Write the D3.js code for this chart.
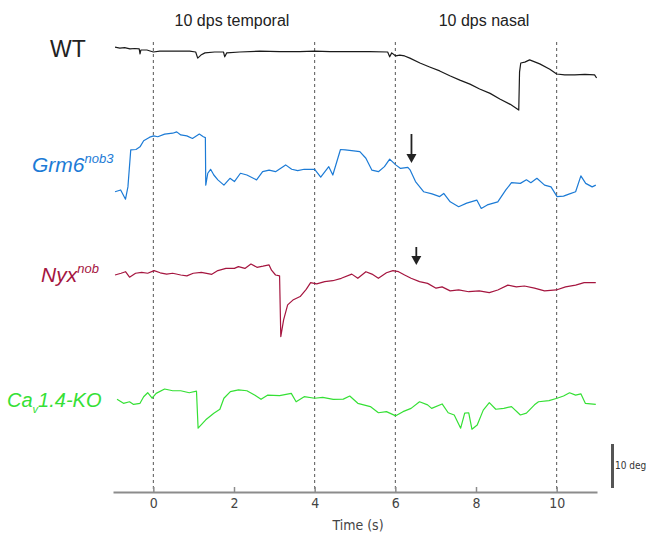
<!DOCTYPE html>
<html>
<head>
<meta charset="utf-8">
<script src="https://cdn.jsdelivr.net/npm/d3@7"></script>
<style>
body { margin: 0; background: #fff; }
svg { display: block; }
.label { font-family: "Liberation Sans", Arial, sans-serif; }
.axis text { font-family: "DejaVu Sans Condensed", sans-serif; font-size: 14px; fill: #444; }
.axis path, .axis line { stroke: #8c8c8c; }
.axis path { stroke-width: 2px; }
.stim { stroke: #555; stroke-width: 1; stroke-dasharray: 3,3; }
.trace { fill: none; stroke-width: 1.2px; stroke-linejoin: round; }
</style>
</head>
<body>
<script>

// time (s) and eye position (deg)
var timeTicks = [0, 2, 4, 6, 8, 10];
var stimLines = [0, 4, 6, 10];
var stimLabels = [{text: "10 dps temporal", t: 1.95}, {text: "10 dps nasal", t: 8.2}];
var arrowTimes = [6.4, 6.52];

var wt = [[-0.95,1.1],[-0.83,0.9],[-0.71,1.0],[-0.58,0.7],[-0.46,0.8],[-0.35,0.7],[-0.33,-0.45],[-0.31,0.45],
  [-0.16,0.45],[0.0,0],[0.16,0.2],[0.41,0.2],[0.66,0.2],[0.90,0.2],[1.05,0],[1.10,-1.4],[1.18,-0.7],[1.28,-0.2],
  [1.52,0],[1.74,0],[1.77,-1.1],[1.82,-0.2],[2.14,0],[2.64,0.2],[3.13,0.1],[3.63,0.1],[4.00,0.2],[4.38,0.1],
  [4.87,0.1],[5.37,0.1],[5.81,0],[5.86,-1.1],[5.91,-0.2],[6.01,-0.9],[6.11,-0.7],[6.23,-0.9],[6.36,-1.4],
  [6.61,-2.5],[6.85,-3.4],[7.10,-4.3],[7.35,-5.4],[7.60,-6.4],[7.85,-7.3],[8.09,-8.4],[8.35,-9.4],[8.59,-10.7],
  [8.85,-11.9],[9.06,-13.2],[9.08,-4.5],[9.11,-2.5],[9.21,-2.3],[9.33,-1.8],[9.58,-2.7],[9.83,-3.9],[10.0,-5.0],
  [10.2,-5.2],[10.45,-5.2],[10.70,-5.1],[10.94,-5.2],[10.99,-5.9]];

var grm6 = [[-0.95,-3.8],[-0.81,-3.4],[-0.69,-5.5],[-0.63,-2.7],[-0.56,5.7],[-0.43,5.8],[-0.33,6.4],[-0.24,7.8],
  [-0.09,8.6],[0.01,8.9],[0.11,8.7],[0.28,9.3],[0.48,9.5],[0.58,9.8],[0.68,9.1],[0.83,8.9],[0.97,8.3],[1.14,9.3],
  [1.24,8.7],[1.29,8.5],[1.30,-2.3],[1.35,0.4],[1.42,1.3],[1.50,0],[1.60,-1.1],[1.75,-2.3],[1.90,-0.75],[2.01,-1.5],
  [2.16,0.4],[2.32,0],[2.56,-1.1],[2.71,0.75],[2.87,1.1],[3.03,0.75],[3.28,2.3],[3.43,1.3],[3.58,1.0],[3.74,1.3],
  [4.00,1.3],[4.15,-0.5],[4.35,1.9],[4.45,0],[4.64,5.8],[4.76,5.7],[4.97,5.5],[5.12,5.3],[5.27,3.8],[5.42,1.1],
  [5.58,0.75],[5.73,1.9],[5.86,3.6],[6.01,2.3],[6.13,1.5],[6.31,1.75],[6.37,1.1],[6.50,-1.5],[6.70,-3.8],[6.91,-4.3],
  [7.10,-4.9],[7.20,-4.2],[7.36,-6.1],[7.57,-7.2],[7.77,-6.4],[8.02,-5.7],[8.13,-7.6],[8.28,-6.8],[8.54,-6.1],
  [8.74,-3.4],[8.88,-1.75],[9.10,-1.9],[9.25,-1.1],[9.36,-1.75],[9.51,-0.75],[9.70,-2.3],[9.86,-2.7],[10.01,-4.9],
  [10.17,-4.8],[10.32,-4.3],[10.47,-3.8],[10.60,-0.2],[10.72,-1.9],[10.88,-2.7],[10.97,-2.3]];

var nyx = [[-0.95,0],[-0.80,0.4],[-0.69,0.75],[-0.59,-0.5],[-0.44,0.4],[-0.29,0.6],[-0.14,0.4],[0.02,1.0],
  [0.17,0.5],[0.33,0.2],[0.48,0.4],[0.68,0],[0.83,-0.2],[0.99,0.4],[1.19,0.6],[1.45,0.15],[1.60,1.0],[1.80,1.5],
  [2.01,1.5],[2.11,1.9],[2.27,1.5],[2.42,2.5],[2.57,1.75],[2.72,2.0],[2.87,2.3],[2.93,1.1],[3.03,0],[3.13,-0.2],
  [3.16,-14.0],[3.23,-10.2],[3.33,-6.8],[3.46,-5.7],[3.64,-4.9],[3.79,-3.25],[3.90,-1.75],[4.05,-2.0],[4.25,-1.5],
  [4.45,-1.3],[4.66,-0.75],[4.92,0.2],[5.07,-0.75],[5.27,0.75],[5.42,0.2],[5.58,-0.75],[5.78,0.5],[5.94,1.0],
  [6.08,0.75],[6.23,0],[6.39,-0.75],[6.60,-1.5],[6.80,-1.9],[7.01,-3.0],[7.16,-2.7],[7.36,-3.6],[7.57,-3.4],
  [7.82,-3.8],[8.08,-3.6],[8.33,-4.0],[8.54,-3.4],[8.79,-2.3],[9.00,-2.7],[9.20,-2.5],[9.45,-3.0],[9.70,-3.6],
  [9.99,-3.4],[10.22,-2.7],[10.47,-2.3],[10.68,-1.75],[10.97,-1.75]];

var cav14 = [[-0.90,0.15],[-0.74,-0.75],[-0.59,-0.4],[-0.49,-1.0],[-0.33,-0.75],[-0.24,0.75],[-0.14,1.65],
  [-0.03,0.4],[0.07,1.5],[0.28,2.5],[0.48,2.1],[0.68,2.1],[0.89,1.65],[1.07,2.0],[1.11,-6.4],[1.30,-4.5],[1.50,-3.0],
  [1.65,-2.1],[1.75,0.4],[1.91,1.9],[2.11,2.3],[2.32,2.1],[2.52,1.1],[2.67,0.15],[2.83,1.1],[3.13,1.0],[3.42,1.5],
  [3.54,-0.4],[3.74,0.75],[4.00,0.4],[4.20,0.6],[4.46,0.15],[4.71,0.2],[4.87,0.9],[5.07,-0.75],[5.38,-1.5],
  [5.58,-2.9],[5.78,-2.65],[6.01,-3.6],[6.19,-2.65],[6.39,-1.9],[6.60,-0.4],[6.80,-1.1],[6.90,-1.9],[7.16,-0.9],
  [7.31,-2.9],[7.46,-3.4],[7.62,-6.4],[7.72,-3.0],[7.82,-2.9],[7.90,-6.65],[8.03,-5.7],[8.18,-2.3],[8.33,-0.6],
  [8.49,-2.1],[8.69,-1.9],[8.88,-1.5],[9.10,-3.4],[9.25,-3.0],[9.45,-1.1],[9.55,-0.4],[9.81,-0.15],[10.01,0.4],
  [10.17,0.9],[10.32,1.65],[10.47,1.1],[10.60,1.4],[10.71,-0.75],[10.97,-1.0]];

var W = 646, H = 533,
    axisY = 492,
    stimTop = 42;

var x = d3.scaleLinear().domain([-1, 11]).range([113, 597]),
    deg = d3.scaleLinear().domain([0, 10]).range([0, -44]);

var traces = [
  {data: wt,    base: 52,  color: "#1a1a1a"},
  {data: grm6,  base: 175, color: "#1c7bd6"},
  {data: nyx,   base: 275, color: "#a5153f"},
  {data: cav14, base: 400, color: "#35e035"}
];

var svg = d3.select("body").append("svg")
    .attr("width", W)
    .attr("height", H);

svg.selectAll("line.stim")
    .data(stimLines)
  .enter().append("line")
    .attr("class", "stim")
    .attr("x1", x).attr("x2", x)
    .attr("y1", stimTop)
    .attr("y2", axisY);

svg.selectAll("text.stimlabel")
    .data(stimLabels)
  .enter().append("text")
    .attr("class", "label")
    .attr("x", function(d) { return x(d.t); })
    .attr("y", 26)
    .attr("text-anchor", "middle")
    .attr("font-size", 16)
    .attr("fill", "#222")
    .text(function(d) { return d.text; });

traces.forEach(function(tr) {
  svg.append("path")
      .attr("class", "trace")
      .attr("stroke", tr.color)
      .attr("d", d3.line()
        .x(function(d) { return x(d[0]); })
        .y(function(d) { return tr.base + deg(d[1]); })(tr.data));
});

// axis
var ax = svg.append("g")
    .attr("class", "axis")
    .attr("transform", "translate(0," + axisY + ")")
    .call(d3.axisBottom(x).tickValues(timeTicks).tickSize(-5).tickSizeOuter(0).tickPadding(6));
ax.selectAll(".tick line").attr("stroke-width", 1.5);

svg.append("text")
    .attr("x", 358)
    .attr("y", 530)
    .attr("text-anchor", "middle")
    .style("font-family", "'DejaVu Sans Condensed', sans-serif")
    .style("font-size", "14px")
    .attr("fill", "#444")
    .text("Time (s)");

// scale bar
svg.append("line")
    .attr("x1", 612.5).attr("x2", 612.5)
    .attr("y1", 488 + deg(10)).attr("y2", 488)
    .attr("stroke", "#555")
    .attr("stroke-width", 3);

svg.append("text")
    .attr("x", 615)
    .attr("y", 469)
    .style("font-family", "'DejaVu Sans Condensed', sans-serif")
    .style("font-size", "10px")
    .attr("fill", "#333")
    .text("10 deg");

// labels
svg.append("text")
    .attr("class", "label")
    .attr("x", 50).attr("y", 57)
    .attr("font-size", 23)
    .attr("fill", "#222")
    .text("WT");

var g6 = svg.append("text")
    .attr("class", "label")
    .attr("x", 32).attr("y", 172)
    .attr("font-size", 21)
    .attr("font-style", "italic")
    .attr("fill", traces[1].color);
g6.append("tspan").text("Grm6");
g6.append("tspan").attr("font-size", 13).attr("dy", -9).text("nob3");

var nx = svg.append("text")
    .attr("class", "label")
    .attr("x", 41).attr("y", 282)
    .attr("font-size", 21)
    .attr("font-style", "italic")
    .attr("fill", traces[2].color);
nx.append("tspan").text("Nyx");
nx.append("tspan").attr("font-size", 13).attr("dy", -9).text("nob");

var ca = svg.append("text")
    .attr("class", "label")
    .attr("x", 7).attr("y", 407)
    .attr("font-size", 20)
    .attr("font-style", "italic")
    .attr("fill", traces[3].color);
ca.append("tspan").text("Ca");
ca.append("tspan").attr("font-size", 11).attr("dy", 6).text("v");
ca.append("tspan").attr("dy", -6).text("1.4-KO");

// arrows
var arrowSpec = [{t: arrowTimes[0], y0: 134, y1: 163}, {t: arrowTimes[1], y0: 247, y1: 265}];
arrowSpec.forEach(function(a) {
  var ax0 = x(a.t);
  svg.append("line")
      .attr("x1", ax0).attr("x2", ax0)
      .attr("y1", a.y0).attr("y2", a.y1 - 6)
      .attr("stroke", "#222")
      .attr("stroke-width", 1.8);
  svg.append("path")
      .attr("d", "M" + (ax0 - 5) + "," + (a.y1 - 9) + "L" + (ax0 + 5) + "," + (a.y1 - 9) + "L" + ax0 + "," + a.y1 + "Z")
      .attr("fill", "#222");
});

</script>
</body>
</html>
